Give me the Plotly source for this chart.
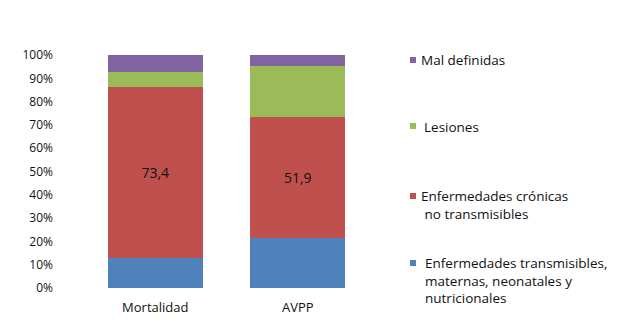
import plotly.graph_objects as go

categories = ["Mortalidad", "AVPP"]
series_names = [
    "Enfermedades transmisibles,<br>maternas, neonatales y<br>nutricionales",
    "Enfermedades crónicas<br> no transmisibles",
    "Lesiones",
    "Mal definidas",
]
transmisibles = [13.0, 21.5]
cronicas = [73.4, 51.9]
lesiones = [6.5, 21.8]
mal_definidas = [7.1, 4.8]
values = [transmisibles, cronicas, lesiones, mal_definidas]
colors = ["#4F81BD", "#C0504D", "#9BBB59", "#8064A2"]
tick_vals = list(range(0, 101, 10))
tick_text = [f"{v}%" for v in tick_vals]

FONT = "Open Sans"

fig = go.Figure()
for i, (name, vals, col) in enumerate(zip(series_names, values, colors)):
    fig.add_trace(go.Bar(
        x=categories, y=vals, name=name,
        marker=dict(color=col, line=dict(width=0)),
        text=vals if i == 1 else None,
        texttemplate="%{y:.1f}" if i == 1 else None,
        textposition="inside" if i == 1 else "none",
        insidetextanchor="middle",
        textfont=dict(family=FONT, size=14, color="#111111"),
        showlegend=False,
    ))

# Legend as annotations + square markers (positions in pixels converted to paper)
W, H = 617, 335
ml, mr, mt, mb = 84, 248, 55, 47
pw, ph = W - ml - mr, H - mt - mb

def px_to_paper(x, y):
    return (x - ml) / pw, 1 - (y - mt) / ph

legend_pos = [  # (square x, square y, text x, text y top) for each series
    (413, 263, 423, 252),
    (413, 196, 419, 185),
    (413, 126, 422, 116),
    (413, 60, 419, 49),
]
for name, col, (sx, sy, tx, ty) in zip(series_names, colors, legend_pos):
    x0, y0 = px_to_paper(sx - 3, sy - 3)
    x1, y1 = px_to_paper(sx + 3, sy + 3)
    fig.add_shape(type="rect", xref="paper", yref="paper",
                  x0=x0, x1=x1, y0=y1, y1=y0,
                  fillcolor=col, line=dict(width=0))
    ax, ay = px_to_paper(tx, ty)
    fig.add_annotation(xref="paper", yref="paper", x=ax, y=ay,
                       text=name, showarrow=False, xanchor="left", yanchor="top",
                       align="left",
                       font=dict(family=FONT, size=13.5, color="#111111"))

fig.update_layout(
    barmode="stack",
    bargap=0.33,
    width=W, height=H,
    margin=dict(l=ml, r=mr, t=mt, b=mb),
    plot_bgcolor="white",
    paper_bgcolor="white",
    separators=",.",
    font=dict(family=FONT, size=12, color="#111111"),
)
fig.update_yaxes(range=[0, 100], tickvals=tick_vals, ticktext=tick_text,
                 showgrid=False, zeroline=False, showline=False,
                 ticks="", ticklabelstandoff=30,
                 tickfont=dict(family=FONT, size=12, color="#111111"))
fig.update_xaxes(showgrid=False, showline=False, ticks="", ticklabelstandoff=10,
                 tickfont=dict(family=FONT, size=13, color="#111111"))

fig.write_html("out.html")
